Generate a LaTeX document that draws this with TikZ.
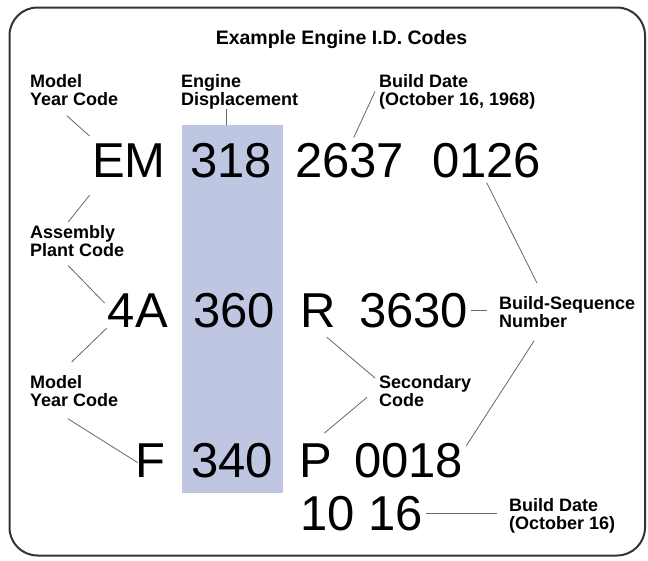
\documentclass[tikz,border=0pt]{standalone}
\usepackage{fontspec}
\setmainfont{Liberation Sans}
\usepackage{tikz}
\definecolor{bandblue}{HTML}{BFC6E2}
\definecolor{leadgray}{HTML}{666666}

\begin{document}
\begin{tikzpicture}[x=1pt,y=-1pt,
    code/.style={inner sep=0pt,font=\fontsize{49}{50}\selectfont},
    tag/.style={inner sep=0pt,anchor=north west,align=left,font=\fontsize{18}{18}\selectfont\bfseries},
    lead/.style={draw=leadgray,line width=0.8pt}]
    \useasboundingbox (0,0) rectangle (648,560);
    \draw[line width=2pt,draw=black!80,rounded corners=28pt] (9.5,7.5) rectangle (645,555.5);
    \node[fill=bandblue,minimum width=101pt,minimum height=368pt,inner sep=0pt] (band) at (232.5,309) {};

    \node[inner sep=0pt,anchor=base,font=\fontsize{19.5}{20}\selectfont\bfseries] (title) at (341.5,44) {Example Engine I.D. Codes};

    % codes
    \node[code,anchor=base east] (em) at (166,177) {EM};
    \node[code,anchor=base west] (c318) at (190,177) {318};
    \node[code,anchor=base west] (c2637) at (295,177) {2637};
    \node[code,anchor=base west] (c0126) at (432,177) {0126};
    \node[code,anchor=base east] (c4a) at (168,327) {4A};
    \node[code,anchor=base west] (c360) at (193,327) {360};
    \node[code,anchor=base west] (cr) at (300,327) {R};
    \node[code,anchor=base west] (c3630) at (359,327) {3630};
    \node[code,anchor=base east] (cf) at (166,477) {F};
    \node[code,anchor=base west] (c340) at (191,477) {340};
    \node[code,anchor=base west] (cp) at (299,477) {P};
    \node[code,anchor=base west] (c0018) at (354,477) {0018};
    \node[code,anchor=base west] (c1016) at (300,530) {10 16};

    % labels
    \node[tag] (year1) at (30,74) {Model\\Year Code};
    \node[tag] (disp) at (181,74) {Engine\\Displacement};
    \node[tag] (date1) at (379,74) {Build Date\\(October 16, 1968)};
    \node[tag] (plant) at (30,225) {Assembly\\Plant Code};
    \node[tag] (seq) at (499,296) {Build-Sequence\\Number};
    \node[tag] (year2) at (30,375) {Model\\Year Code};
    \node[tag] (second) at (379,375) {Secondary\\Code};
    \node[tag] (date2) at (509,498) {Build Date\\(October 16)};

    % leaders
    \draw[lead] ([xshift=-7.5pt,yshift=-10pt]year1.south) -- ([xshift=-2.5pt,yshift=7pt]em.north west);
    \draw[lead] ([xshift=-5pt]c318.north |- band.north) -- ([xshift=-5pt]c318.north |- disp.south);
    \draw[lead] ([xshift=-4pt]date1.west) -- ([xshift=4pt,yshift=5pt]c2637.north);
    \draw[lead] ([xshift=-2.5pt,yshift=-18pt]em.south west) -- ([xshift=-9pt,yshift=3pt]plant.north);
    \draw[lead] ([xshift=-9pt,yshift=-9pt]plant.south) -- ([xshift=-3pt,yshift=-10pt]c4a.north west);
    \draw[lead] ([xshift=-1pt,yshift=-1pt]c4a.south west) -- ([xshift=-2.5pt,yshift=13pt]year2.north);
    \draw[lead] ([xshift=-6.5pt,yshift=-12pt]year2.south) -- ([xshift=2pt,yshift=-2.5pt]cf.west);
    \draw[lead] ([yshift=-5pt]c0126.south) -- ([xshift=38pt,yshift=13pt]seq.north west);
    \draw[lead] ([xshift=3pt]c3630.east) -- ([xshift=-12pt]seq.west |- c3630.east);
    \draw[lead] ([xshift=-33pt,yshift=-13pt]seq.south) -- ([xshift=3pt,yshift=-3pt]c0018.north east);
    \draw[lead] ([xshift=-9pt,yshift=-10pt]cr.south east) -- ([xshift=-4pt,yshift=-3pt]second.north west);
    \draw[lead] ([xshift=-12pt,yshift=-6.5pt]second.west) -- ([xshift=-7.7pt,yshift=10pt]cp.north east);
    \draw[lead] ([xshift=3pt]c1016.east) -- ([xshift=-12pt]date2.west |- c1016.east);
\end{tikzpicture}
\end{document}
